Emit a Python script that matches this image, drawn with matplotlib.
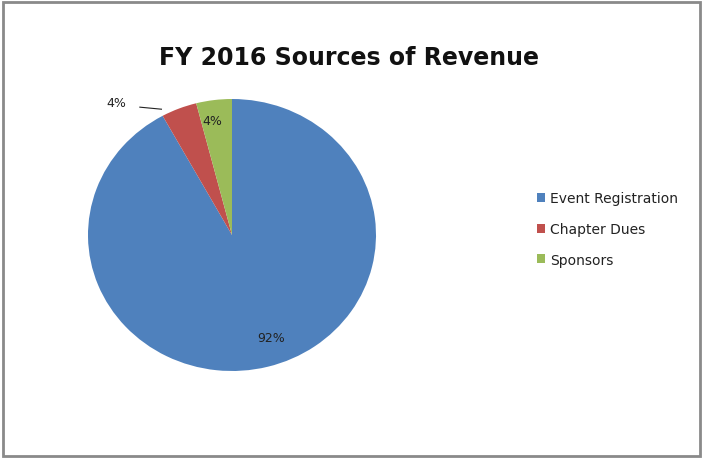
import matplotlib
matplotlib.use("Agg")
import matplotlib.pyplot as plt
from matplotlib.patches import Rectangle
import numpy as np

categories = ["Event Registration", "Chapter Dues", "Sponsors"]
values = [92, 4, 4]
colors = ["#4F81BD", "#C0504D", "#9BBB59"]
title = "FY 2016 Sources of Revenue"

W, H = 703, 460
fig = plt.figure(figsize=(W / 100, H / 100), dpi=100)
fig.patches.append(Rectangle((3 / W, 3 / H), 697 / W, 454 / H, transform=fig.transFigure,
                             fill=False, edgecolor="#8a8a8a", linewidth=2))

ax = fig.add_axes([88 / W, 88 / H, 288 / W, 272 / H])
wedges, texts, autotexts = ax.pie(values, colors=colors, startangle=90, counterclock=False,
                                  autopct=lambda p: f"{p:.0f}%", pctdistance=0.82,
                                  textprops=dict(fontsize=9, color="#222222"),
                                  wedgeprops=dict(linewidth=0))
ax.set_aspect("auto")
ax.set_xlim(-1, 1)
ax.set_ylim(-1, 1)

# label placement as in the reference
autotexts[0].set_position((0.27, -0.757))
autotexts[1].set_position((-0.80, 0.975))
ax.plot([-0.64, -0.49], [0.94, 0.925], color="#222222", lw=0.8, clip_on=False)
autotexts[2].set_position((-0.14, 0.84))

fig.text(0.497, 0.873, title, ha="center", va="center", fontsize=17, fontweight="bold",
         color="#111111")

fig.legend(wedges, categories, loc="center left", bbox_to_anchor=(524 / W, 230 / H),
           frameon=False, fontsize=10, handlelength=0.6, handleheight=0.6,
           labelspacing=1.2, handletextpad=0.4, labelcolor="#222222")

fig.savefig("out.png", dpi=100)
